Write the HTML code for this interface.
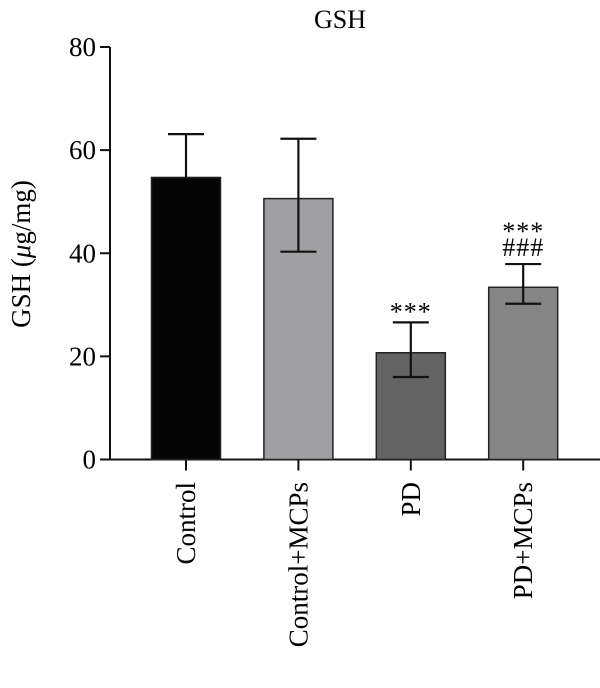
<!DOCTYPE html>
<html><head><meta charset="utf-8"><style>
html,body{margin:0;padding:0;background:#fff;}
svg{display:block;font-family:"Liberation Serif",serif;}
</style></head><body>
<svg id="chart" width="600" height="688" viewBox="0 0 600 688" xmlns="http://www.w3.org/2000/svg">
<text x="340" y="28" text-anchor="middle" font-size="26">GSH</text>
<text transform="translate(30,254) rotate(-90)" text-anchor="middle" font-size="27">GSH (<tspan font-style="italic">μ</tspan>g/mg)</text>
<g id="axes"></g>
<g id="bars"></g>
</svg>
<script>
const categories=["Control","Control+MCPs","PD","PD+MCPs"];
const means=[54.7,50.6,20.7,33.4];
const errHigh=[63.1,62.2,26.6,37.9];
const errLow=[54.7,40.3,16.0,30.2];
const annotations=[[],[],["***"],["***","###"]];
const colors=["#050505","#a0a0a2","#636364","#858585"];
const yTicks=[0,20,40,60,80];
const NS="http://www.w3.org/2000/svg";
const x0=110,x1=600,yBase=459.5,yTop=47;
function y(v){return yBase-(v/80)*(yBase-yTop);}
function xc(i){return 186+i*112.4;}
const bw=69,cap=18;
function mk(tag,attrs,parent){const e=document.createElementNS(NS,tag);for(const k in attrs)e.setAttribute(k,attrs[k]);parent.appendChild(e);return e;}
const axes=document.getElementById('axes'),bars=document.getElementById('bars');
let l=mk('line',{x1:x0,y1:y(80),x2:x0,y2:yBase,stroke:'#111','stroke-width':2},axes);


l=mk('line',{x1:x0-8,y1:yBase,x2:x1,y2:yBase,stroke:'#111','stroke-width':2},axes);


yTicks.forEach(t=>{
 const tk=mk('line',{x1:x0-10,y1:y(t),x2:x0,y2:y(t),stroke:'#111','stroke-width':2},axes);
 
 
 const tx=mk('text',{x:x0-14,y:y(t)+9,'text-anchor':'end','font-size':27},axes);
 tx.textContent=t;
 
 
});
categories.forEach((c,i)=>{
 const cx=xc(i);
 const r=mk('rect',{x:cx-bw/2,y:y(means[i]),width:bw,height:yBase-y(means[i]),fill:colors[i],stroke:'#222','stroke-width':1.5},bars);
 
 
 const e=mk('path',{d:`M${cx},${y(errLow[i])}V${y(errHigh[i])}M${cx-cap},${y(errHigh[i])}H${cx+cap}`+(errLow[i]<means[i]?`M${cx-cap},${y(errLow[i])}H${cx+cap}`:''),stroke:'#111','stroke-width':2.2,fill:'none'},bars);
 
 
 const tk=mk('line',{x1:cx,y1:yBase,x2:cx,y2:yBase+11,stroke:'#111','stroke-width':2},axes);
 
 
 const tx=mk('text',{transform:`translate(${cx+9},482) rotate(-90)`,'text-anchor':'end','font-size':27},axes);
 tx.textContent=c;
 
 
 const ann=annotations[i];
 ann.forEach((a,j)=>{
  const yy=y(errHigh[i])-8-(ann.length-1-j)*22+(a==='***'?6:0);
  const at=mk('text',{x:cx,y:yy,'text-anchor':'middle','font-size':26,'letter-spacing':1},bars);
  at.textContent=a;
  
  
 });
});
</script>
</body></html>
